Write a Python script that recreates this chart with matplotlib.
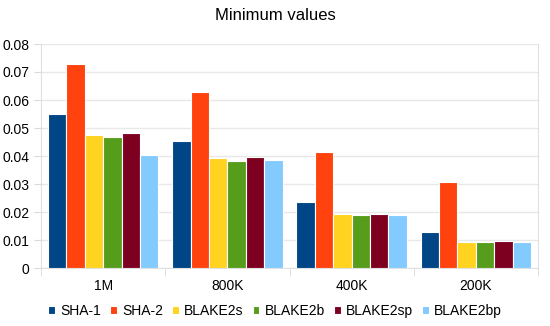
import numpy as np
import matplotlib.pyplot as plt

# Data
categories = ['1M', '800K', '400K', '200K']
series = ['SHA-1', 'SHA-2', 'BLAKE2s', 'BLAKE2b', 'BLAKE2sp', 'BLAKE2bp']
sha1 = [0.0551, 0.0455, 0.0237, 0.0127]
sha2 = [0.0727, 0.0630, 0.0415, 0.0306]
blake2s = [0.0475, 0.0394, 0.0193, 0.0094]
blake2b = [0.0467, 0.0383, 0.0189, 0.0092]
blake2sp = [0.0481, 0.0397, 0.0194, 0.0095]
blake2bp = [0.0403, 0.0386, 0.0190, 0.0092]
colors = ['#004586', '#ff420e', '#ffd320', '#579d1c', '#7e0021', '#83caff']

values = [sha1, sha2, blake2s, blake2b, blake2sp, blake2bp]

plt.rcParams['font.family'] = ['Liberation Sans', 'DejaVu Sans']

fig = plt.figure(figsize=(5.5, 3.26), dpi=100)
ax = fig.add_axes([41 / 550, 1 - 268 / 326, 497 / 550, 224 / 326])

x = np.arange(len(categories))
slot = 0.148
for i, (name, vals) in enumerate(zip(series, values)):
    offset = (i - 2.5) * slot
    ax.bar(x + offset, vals, width=slot, color=colors[i], edgecolor='white',
           linewidth=0.8, label=name, zorder=3)

ax.set_xlim(-0.5, len(categories) - 0.5)
ax.set_ylim(0, 0.08)
ax.set_yticks(np.arange(0, 0.081, 0.01))
ax.set_yticklabels(['0'] + ['%.2f' % v for v in np.arange(0.01, 0.081, 0.01)])
ax.set_xticks(x)
ax.set_xticklabels(categories)
ax.set_xticks(np.arange(-0.5, len(categories), 1), minor=True)
ax.tick_params(axis='x', which='major', length=0, labelsize=10, pad=8)
ax.tick_params(axis='x', which='minor', length=6, color='#d9d9d9')
ax.tick_params(axis='y', length=5, color='#d9d9d9', labelsize=10)

ax.grid(axis='y', color='#e8e8e8', linewidth=1, zorder=0)
for s in ['left', 'right', 'bottom']:
    ax.spines[s].set_color('#e0e0e0')
ax.spines['top'].set_visible(False)

fig.suptitle('Minimum values', fontsize=12, x=0.5, y=1 - 8 / 326, va='top')
fig.legend(loc='center', ncol=6, frameon=False, fontsize=10,
           handlelength=0.5, handleheight=0.5, handletextpad=0.36,
           columnspacing=0.65, bbox_to_anchor=(0.5, 1 - 311 / 326),
           borderaxespad=0, borderpad=0)

fig.savefig('out.png', dpi=100)
